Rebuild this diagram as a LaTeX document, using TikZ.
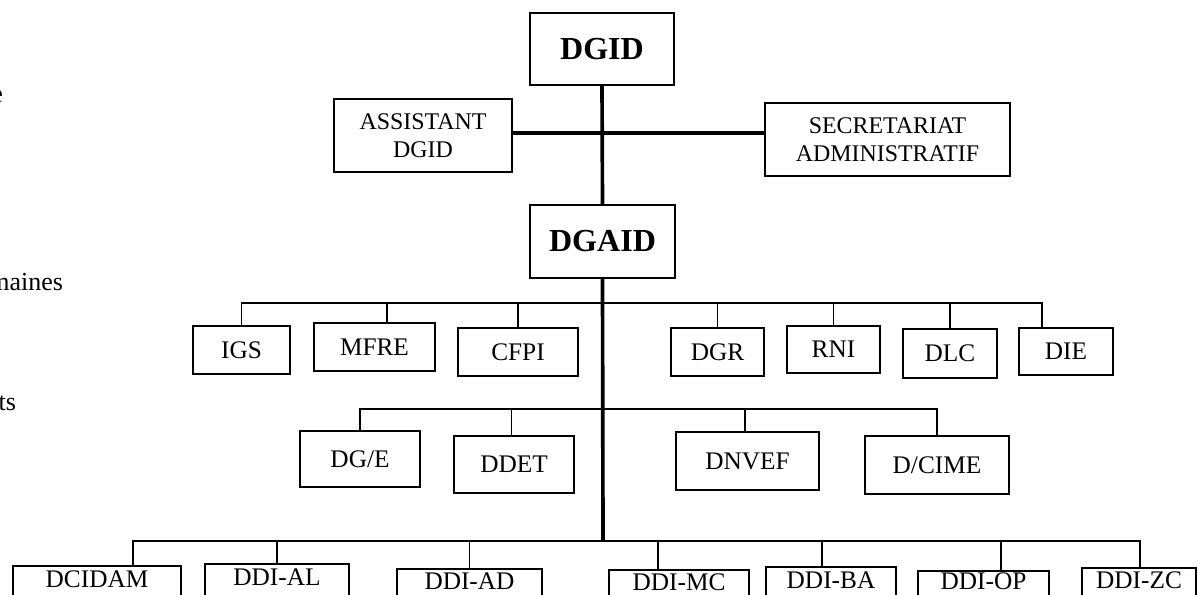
\documentclass[tikz,border=0pt]{standalone}
\usepackage{fontspec}
\setmainfont{Liberation Serif}
\usetikzlibrary{calc}

\begin{document}
\begin{tikzpicture}[x=0.025cm, y=-0.025cm,
    box/.style={rectangle, draw, line width=1.2pt, inner sep=0pt, align=center,
        font=\fontsize{18}{20}\selectfont},
    twoline/.style={box, font=\fontsize{17}{19.5}\selectfont},
    head/.style={box, font=\fontsize{22.8}{26}\selectfont\bfseries},
    lowbox/.style={box, text depth=#1},
    lowbox/.default=8.5pt,
    size/.style 2 args={minimum width=#1*0.025cm, minimum height=#2*0.025cm},
    edgetext/.style={anchor=base east, font=\fontsize{18.5}{20}\selectfont},
    trunk/.style={line width=2.6pt},
    branch/.style={line width=1.3pt}]
    \useasboundingbox (0,0) rectangle (1198,594);
    \clip (0,0) rectangle (1198,594);

    % cut-off text at the left edge
    \node[edgetext] (lefte) at (8,102) {e};
    \node[edgetext] (leftmaines) at (68,290) {maines};
    \node[edgetext] (leftts) at (21,410) {ts};

    % top
    \node[head, size={144}{72}] (dgid) at (602,49) {DGID};
    \node[twoline, size={178}{73}] (assist) at (423,135.5) {ASSISTANT\\DGID};
    \node[twoline, size={245}{73}] (secr) at (887.5,139.5) {SECRETARIAT\\ADMINISTRATIF};
    \node[head, size={145}{73}] (dgaid) at (602.5,241.5) {DGAID};

    % first row
    \node[box, size={97}{48}] (igs) at (241.5,350) {IGS};
    \node[box, size={121}{48}] (mfre) at (374.5,347) {MFRE};
    \node[box, size={120}{48}] (cfpi) at (518,352) {CFPI};
    \node[box, size={93}{48}] (dgr) at (717.5,352) {DGR};
    \node[box, size={93}{47}] (rni) at (833.5,349.5) {RNI};
    \node[box, size={94}{49}] (dlc) at (950,353.5) {DLC};
    \node[box, size={94}{47}] (die) at (1066,351.5) {DIE};

    % second row
    \node[box, size={120}{56}] (dge) at (360,459) {DG/E};
    \node[box, size={120}{57}] (ddet) at (514,464.5) {DDET};
    \node[box, size={143}{58}] (dnvef) at (747.5,461) {DNVEF};
    \node[box, size={144}{58}] (dcime) at (937,465) {D/CIME};

    % third row
    \node[lowbox, size={168}{38}] (dcidam) at (97,585) {DCIDAM};
    \node[lowbox, size={144}{38}] (ddial) at (277,583) {DDI-AL};
    \node[lowbox=10pt, size={145}{38}] (ddiad) at (469.5,588) {DDI-AD};
    \node[lowbox=10pt, size={140}{38}] (ddimc) at (679,589) {DDI-MC};
    \node[lowbox, size={130}{38}] (ddiba) at (831,586) {DDI-BA};
    \node[lowbox=12pt, size={131}{38}] (ddiop) at (983.5,590) {DDI-OP};
    \node[lowbox=10pt, size={114}{38}] (ddizc) at (1139,587) {DDI-ZC};

    \coordinate (hub) at (603,133);
    \coordinate (bar1) at (603,303);
    \coordinate (bar2) at (603,409);
    \coordinate (bar3) at (603,541);

    \draw[trunk] (dgid.south) -- (dgaid.north);
    \draw[trunk] (assist.east |- hub) -- (secr.west |- hub);
    \draw[trunk] (dgaid.south) -- (bar3);

    \foreach \n/\f in {igs/.5, mfre/.6, cfpi/.5, dgr/.5, rni/.5, dlc/.5, die/.25}
        \draw[branch] ($(\n.north west)!\f!(\n.north east)$) |- (bar1);
    \foreach \n/\f in {dge/.5, ddet/.48, dnvef/.48, dcime/.5}
        \draw[branch] ($(\n.north west)!\f!(\n.north east)$) |- (bar2);
    \foreach \n/\f in {dcidam/.714, ddial/.5, ddiad/.5, ddimc/.35, ddiba/.43, ddiop/.634, ddizc/.51}
        \draw[branch] ($(\n.north west)!\f!(\n.north east)$) |- (bar3);
\end{tikzpicture}
\end{document}
